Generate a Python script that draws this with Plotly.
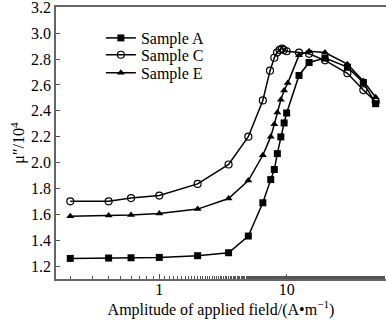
import plotly.graph_objects as go

# Sample A
xa = [0.2, 0.4, 0.6, 1.0, 2.0, 3.5, 5.0, 6.5, 7.5, 8.0, 8.45, 9.0, 9.55, 10.0, 12.5, 15, 20, 30, 40, 50]
ya = [1.259, 1.262, 1.264, 1.267, 1.28, 1.303, 1.432, 1.689, 1.868, 1.946, 2.069, 2.198, 2.306, 2.383, 2.673, 2.773, 2.807, 2.737, 2.619, 2.455]
# Sample C
xc = [0.2, 0.4, 0.6, 1.0, 2.0, 3.5, 5.0, 6.5, 7.4, 8.0, 8.4, 8.8, 9.2, 9.5, 10.0, 12.5, 15, 20, 30, 40, 50]
yc = [1.70, 1.70, 1.725, 1.745, 1.835, 1.985, 2.20, 2.48, 2.71, 2.81, 2.85, 2.87, 2.88, 2.87, 2.86, 2.85, 2.84, 2.79, 2.69, 2.56, 2.47]
# Sample E
xe = [0.2, 0.4, 0.6, 1.0, 2.0, 3.5, 5.0, 6.5, 7.5, 8.0, 8.45, 9.0, 9.55, 10.2, 12.5, 15, 20, 30, 40, 50]
ye = [1.585, 1.59, 1.594, 1.606, 1.64, 1.722, 1.861, 2.056, 2.20, 2.295, 2.387, 2.485, 2.557, 2.614, 2.83, 2.86, 2.85, 2.76, 2.63, 2.505]

names = ["Sample A", "Sample C", "Sample E"]
xtick_vals = [1, 10]
xtick_text = ["1", "10"]
ytick_vals = [1.2, 1.4, 1.6, 1.8, 2.0, 2.2, 2.4, 2.6, 2.8, 3.0, 3.2]

FAM = "Liberation Serif"
f16 = dict(family=FAM, size=16, color="black")
f15 = dict(family=FAM, size=15, color="black")
line = dict(color="black", width=1.5)

fig = go.Figure()
fig.add_trace(go.Scatter(x=xa, y=ya, name=names[0], mode="lines+markers", line=line,
                         legend="legend",
                         marker=dict(symbol="square", size=7, color="black")))
fig.add_trace(go.Scatter(x=xc, y=yc, name=names[1], mode="lines+markers", line=line,
                         legend="legend2",
                         marker=dict(symbol="circle-open", size=7, color="black",
                                     line=dict(width=1.2, color="black"))))
fig.add_trace(go.Scatter(x=xe, y=ye, name=names[2], mode="lines+markers", line=line,
                         legend="legend3",
                         marker=dict(symbol="triangle-up", size=7, color="black")))

leg = dict(x=0.136, xanchor="left", yanchor="middle", bgcolor="rgba(0,0,0,0)",
           font=f16, itemwidth=30)

fig.update_layout(
    width=386, height=323,
    margin=dict(l=56, r=0, t=7, b=44),
    paper_bgcolor="white", plot_bgcolor="white",
    font=f16,
    showlegend=True,
    legend=dict(leg, y=0.886),
    legend2=dict(leg, y=0.824),
    legend3=dict(leg, y=0.758),
    xaxis=dict(type="log", range=[-0.811, 1.78], automargin=False,
               tickvals=xtick_vals, ticktext=xtick_text,
               ticks="inside", ticklen=5, tickcolor="#555",
               tickfont=f16, ticklabelstandoff=-5,
               minor=dict(ticks="inside", ticklen=3, tickcolor="#555", showgrid=False),
               showline=True, linecolor="#666", linewidth=1.5, mirror=True,
               showgrid=False, zeroline=False,
               title=dict(text="Amplitude of applied field/(A•m<sup>−1</sup>)",
                          font=f16, standoff=0)),
    yaxis=dict(range=[1.1, 3.202], tickvals=ytick_vals, tickformat=".1f",
               automargin=False, ticklabeloverflow="allow",
               ticks="inside", ticklen=4, tickcolor="#555",
               tickfont=f16,
               showline=True, linecolor="#666", linewidth=1.5,
               showgrid=False, zeroline=False,
               title=dict(text="μ″/10<sup>4</sup>", font=f16, standoff=2)),
)

fig.write_html("out.html", post_script="document.body.style.margin='0';",
               config={"displayModeBar": False})
